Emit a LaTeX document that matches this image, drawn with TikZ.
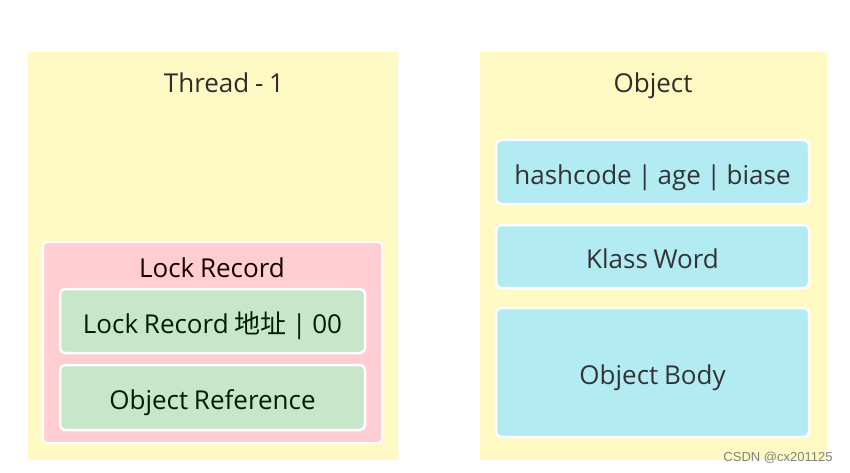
\documentclass[tikz,border=0pt]{standalone}
\usepackage{fontspec}
\setmainfont{Open Sans}[WordSpace=0.85]
\newfontfamily\cjk{Noto Sans CJK SC}
\newfontfamily\wmfont{Liberation Sans}
\usetikzlibrary{positioning}

\definecolor{panelyellow}{HTML}{FFF9C4}
\definecolor{recordpink}{HTML}{FFCDD2}
\definecolor{fieldgreen}{HTML}{C8E6C9}
\definecolor{wordblue}{HTML}{B2EBF2}

\tikzset{
    panel/.style={rectangle, fill=panelyellow, draw=none, inner sep=0pt},
    recordbox/.style={rectangle, rounded corners=4pt, fill=recordpink, draw=white, line width=2pt, inner sep=0pt},
    fieldbox/.style={rectangle, rounded corners=5pt, fill=fieldgreen, draw=white, line width=2.5pt, inner sep=0pt, text=black!70!green!40!black},
    wordbox/.style={rectangle, rounded corners=5pt, fill=wordblue, draw=white, line width=2.5pt, inner sep=0pt, text=black!75!cyan!40!black},
    title/.style={font=\fontsize{26}{30}\selectfont, anchor=base},
    label/.style={font=\fontsize{26}{30}\selectfont, text height=26pt, text depth=2pt}
}

\begin{document}
\begin{tikzpicture}[x=1pt, y=-1pt]
    \useasboundingbox[fill=white] (0,0) rectangle (850,473);

    % Panels
    \node [panel, minimum width=370pt, minimum height=408pt] (thread) at (213,256) {};
    \node [panel, minimum width=347pt, minimum height=408pt] (object) at (653.5,256) {};

    % Thread side
    \node [title, text=black!80!yellow!30!black] (threadname) at (224,93) {Thread - 1};
    \node [recordbox, minimum width=339pt, minimum height=201pt] (record) at (212.5,342.5) {};
    \node [title, text=black!75!red!35!black] (recordname) at (212,277) {Lock Record};
    \node [fieldbox, label, minimum width=305pt, minimum height=64pt] (lockaddr) at (212.5,321) {Lock Record {\cjk 地址} | 00};
    \node [fieldbox, label, minimum width=305pt, minimum height=65pt] (objref) at (212.5,397.5) {Object Reference};

    % Object side
    \node [title, text=black!80!yellow!30!black] (objectname) at (653,93) {Object};
    \node [wordbox, label, minimum width=313pt, minimum height=64pt] (markword) at (652.5,172) {hashcode | age | biase};
    \node [wordbox, label, minimum width=313pt, minimum height=63pt] (klassword) at (652.5,256.5) {Klass Word};
    \node [wordbox, label, minimum width=313pt, minimum height=129pt] (objbody) at (652.5,372.5) {Object Body};

    % Watermark
    \node [font=\wmfont\fontsize{13}{15}\selectfont, text=black!50] (mark) at (778,458) {CSDN @cx201125};
\end{tikzpicture}
\end{document}
